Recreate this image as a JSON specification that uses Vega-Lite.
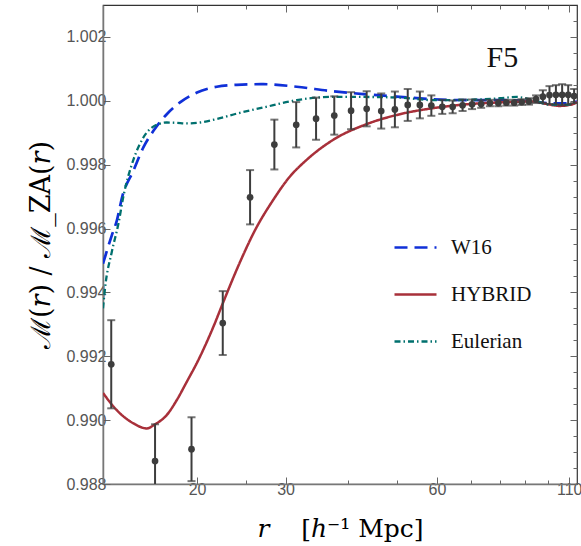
{
  "$schema": "https://vega.github.io/schema/vega-lite/v6.json",
  "width": 474,
  "height": 479,
  "autosize": "none",
  "padding": {"left": 103, "top": 5, "right": 4, "bottom": 62},
  "background": "white",
  "datasets": {
    "curves": [
      {"series": "W16", "r": 13.0, "m": 0.99490},
      {"series": "W16", "r": 13.53, "m": 0.99578},
      {"series": "W16", "r": 13.85, "m": 0.99625},
      {"series": "W16", "r": 14.2, "m": 0.99700},
      {"series": "W16", "r": 14.94, "m": 0.99781},
      {"series": "W16", "r": 15.64, "m": 0.99854},
      {"series": "W16", "r": 16.38, "m": 0.99906},
      {"series": "W16", "r": 17.41, "m": 0.99958},
      {"series": "W16", "r": 18.5, "m": 0.99995},
      {"series": "W16", "r": 20.0, "m": 1.00026},
      {"series": "W16", "r": 21.89, "m": 1.00044},
      {"series": "W16", "r": 23.99, "m": 1.00050},
      {"series": "W16", "r": 27.09, "m": 1.00052},
      {"series": "W16", "r": 31.57, "m": 1.00044},
      {"series": "W16", "r": 36.77, "m": 1.00031},
      {"series": "W16", "r": 42.83, "m": 1.00021},
      {"series": "W16", "r": 50.65, "m": 1.000125},
      {"series": "W16", "r": 58.99, "m": 1.00005},
      {"series": "W16", "r": 68.74, "m": 1.00002},
      {"series": "W16", "r": 80.08, "m": 1.00002},
      {"series": "W16", "r": 93.27, "m": 0.99998},
      {"series": "W16", "r": 100.65, "m": 0.99992},
      {"series": "W16", "r": 108.6, "m": 0.99992},
      {"series": "W16", "r": 114, "m": 0.99998},
      {"series": "HYBRID", "r": 13.0, "m": 0.99085},
      {"series": "HYBRID", "r": 13.85, "m": 0.99031},
      {"series": "HYBRID", "r": 14.94, "m": 0.98990},
      {"series": "HYBRID", "r": 15.89, "m": 0.98974},
      {"series": "HYBRID", "r": 16.5, "m": 0.98987},
      {"series": "HYBRID", "r": 17.41, "m": 0.99016},
      {"series": "HYBRID", "r": 18.23, "m": 0.99063},
      {"series": "HYBRID", "r": 19.08, "m": 0.99120},
      {"series": "HYBRID", "r": 20.0, "m": 0.99180},
      {"series": "HYBRID", "r": 21.55, "m": 0.99292},
      {"series": "HYBRID", "r": 22.56, "m": 0.99370},
      {"series": "HYBRID", "r": 24.35, "m": 0.99495},
      {"series": "HYBRID", "r": 26.09, "m": 0.99595},
      {"series": "HYBRID", "r": 28.36, "m": 0.99690},
      {"series": "HYBRID", "r": 30.5, "m": 0.99760},
      {"series": "HYBRID", "r": 33.04, "m": 0.99815},
      {"series": "HYBRID", "r": 37.33, "m": 0.99878},
      {"series": "HYBRID", "r": 43.5, "m": 0.99927},
      {"series": "HYBRID", "r": 50.65, "m": 0.99958},
      {"series": "HYBRID", "r": 58.99, "m": 0.99977},
      {"series": "HYBRID", "r": 68.74, "m": 0.99989},
      {"series": "HYBRID", "r": 80.08, "m": 0.99995},
      {"series": "HYBRID", "r": 93.27, "m": 0.99998},
      {"series": "HYBRID", "r": 99.1, "m": 0.99990},
      {"series": "HYBRID", "r": 105.4, "m": 0.99984},
      {"series": "HYBRID", "r": 112.0, "m": 0.99990},
      {"series": "HYBRID", "r": 114, "m": 0.99996},
      {"series": "Eulerian", "r": 13.0, "m": 0.99350},
      {"series": "Eulerian", "r": 13.13, "m": 0.99417},
      {"series": "Eulerian", "r": 13.53, "m": 0.99526},
      {"series": "Eulerian", "r": 13.95, "m": 0.99615},
      {"series": "Eulerian", "r": 14.27, "m": 0.99700},
      {"series": "Eulerian", "r": 14.94, "m": 0.99815},
      {"series": "Eulerian", "r": 15.64, "m": 0.99885},
      {"series": "Eulerian", "r": 16.75, "m": 0.99927},
      {"series": "Eulerian", "r": 17.41, "m": 0.99932},
      {"series": "Eulerian", "r": 18.2, "m": 0.99931},
      {"series": "Eulerian", "r": 19.08, "m": 0.99929},
      {"series": "Eulerian", "r": 20.28, "m": 0.99932},
      {"series": "Eulerian", "r": 21.89, "m": 0.99943},
      {"series": "Eulerian", "r": 24.0, "m": 0.99960},
      {"series": "Eulerian", "r": 27.09, "m": 0.99979},
      {"series": "Eulerian", "r": 31.57, "m": 1.00002},
      {"series": "Eulerian", "r": 36.77, "m": 1.00012},
      {"series": "Eulerian", "r": 42.83, "m": 1.00012},
      {"series": "Eulerian", "r": 50.65, "m": 1.00010},
      {"series": "Eulerian", "r": 58.99, "m": 1.00002},
      {"series": "Eulerian", "r": 68.74, "m": 1.00003},
      {"series": "Eulerian", "r": 80.08, "m": 1.00008},
      {"series": "Eulerian", "r": 86.44, "m": 1.00012},
      {"series": "Eulerian", "r": 93.27, "m": 1.00002},
      {"series": "Eulerian", "r": 100.65, "m": 0.99988},
      {"series": "Eulerian", "r": 108.6, "m": 0.99987},
      {"series": "Eulerian", "r": 114, "m": 0.99998}
    ],
    "pts": [
      {"r": 13.5, "m": 0.99175, "err": 0.00138},
      {"r": 16.5, "m": 0.98872, "err": 0.00115},
      {"r": 19.5, "m": 0.98909, "err": 0.00100},
      {"r": 22.5, "m": 0.99304, "err": 0.00100},
      {"r": 25.5, "m": 0.99698, "err": 0.00085},
      {"r": 28.5, "m": 0.99863, "err": 0.00078},
      {"r": 31.5, "m": 0.99925, "err": 0.00071},
      {"r": 34.5, "m": 0.99944, "err": 0.00066},
      {"r": 37.5, "m": 0.99954, "err": 0.00060},
      {"r": 40.5, "m": 0.99969, "err": 0.00058},
      {"r": 43.5, "m": 0.99975, "err": 0.00055},
      {"r": 46.5, "m": 0.99968, "err": 0.00055},
      {"r": 49.5, "m": 0.99973, "err": 0.00056},
      {"r": 52.5, "m": 0.99987, "err": 0.00050},
      {"r": 55.5, "m": 0.99987, "err": 0.00042},
      {"r": 58.5, "m": 0.99985, "err": 0.00032},
      {"r": 61.5, "m": 0.99981, "err": 0.00022},
      {"r": 64.5, "m": 0.99981, "err": 0.00020},
      {"r": 67.5, "m": 0.99986, "err": 0.00018},
      {"r": 70.5, "m": 0.99989, "err": 0.00015},
      {"r": 73.5, "m": 0.99990, "err": 0.00012},
      {"r": 76.5, "m": 0.99993, "err": 0.00010},
      {"r": 79.5, "m": 0.99993, "err": 0.00010},
      {"r": 82.5, "m": 0.99994, "err": 0.00009},
      {"r": 85.5, "m": 0.99994, "err": 0.00009},
      {"r": 88.5, "m": 0.99996, "err": 0.00009},
      {"r": 91.5, "m": 0.99998, "err": 0.00010},
      {"r": 94.5, "m": 1.00005, "err": 0.00012},
      {"r": 97.5, "m": 1.00013, "err": 0.00020},
      {"r": 100.5, "m": 1.00018, "err": 0.00028},
      {"r": 103.5, "m": 1.00019, "err": 0.00030},
      {"r": 106.5, "m": 1.00019, "err": 0.00033},
      {"r": 109.5, "m": 1.00019, "err": 0.00030},
      {"r": 112.5, "m": 1.00015, "err": 0.00022}
    ],
    "ann": [
      {"r": 81, "m": 1.00134, "label": "F5"}
    ]
  },
  "layer": [
    {
      "mark": {"type": "rule", "stroke": "#888888", "strokeWidth": 2, "strokeDash": [3, 3]},
      "encoding": {
        "x": {
          "datum": 13, "type": "quantitative",
          "scale": {"type": "log", "domain": [13, 114], "nice": false},
          "axis": {
            "orient": "top", "values": [20, 25, 30, 40, 50, 60, 70, 80, 90, 100, 110],
            "labels": false, "title": null, "grid": false, "domain": false,
            "tickColor": "#666666", "tickWidth": 1,
            "tickSize": {"condition": {"test": "indexof([20,30,60,110], datum.value) >= 0", "value": -7}, "value": -4}
          }
        },
        "x2": {"datum": 114},
        "y": {
          "datum": 1.0, "type": "quantitative",
          "scale": {"domain": [0.988, 1.003], "zero": false, "nice": false},
          "axis": {
            "orient": "right",
            "values": [0.988, 0.9885, 0.989, 0.9895, 0.99, 0.9905, 0.991, 0.9915, 0.992, 0.9925, 0.993, 0.9935, 0.994, 0.9945, 0.995, 0.9955, 0.996, 0.9965, 0.997, 0.9975, 0.998, 0.9985, 0.999, 0.9995, 1.0, 1.0005, 1.001, 1.0015, 1.002, 1.0025],
            "labels": false, "title": null, "grid": false, "domain": false,
            "tickColor": "#666666", "tickWidth": 1,
            "tickSize": {"condition": {"test": "round(datum.value*2000) % 4 == 0", "value": -7}, "value": -4}
          }
        }
      }
    },
    {
      "layer": [
        {
          "data": {"name": "curves"},
          "mark": {"type": "line", "clip": true, "interpolate": "monotone"},
          "encoding": {
            "x": {
              "field": "r", "type": "quantitative",
              "title": "𝑟\u00a0\u00a0\u00a0\u00a0[ℎ⁻¹ Mpc]",
              "scale": {"type": "log", "domain": [13, 114], "nice": false},
              "axis": {
                "orient": "bottom", "values": [20, 25, 30, 40, 50, 60, 70, 80, 90, 100, 110],
                "labelExpr": "indexof([20,30,60,110], datum.value) >= 0 ? format(datum.value, 'd') : ''",
                "grid": false, "domainColor": "#777777", "domainWidth": 1.5,
                "tickColor": "#666666", "tickWidth": 1,
                "tickSize": {"condition": {"test": "indexof([20,30,60,110], datum.value) >= 0", "value": -7}, "value": -4},
                "labelFont": "Liberation Sans", "labelFontSize": 16, "labelColor": "#555555", "labelPadding": 4,
                "titleFont": "DejaVu Serif", "titleFontSize": 25, "titleFontWeight": "normal",
                "titleColor": "#000000", "titlePadding": 19
              }
            },
            "y": {
              "field": "m", "type": "quantitative",
              "title": "ℳ(𝑟) / ℳ_ZA(𝑟)",
              "scale": {"domain": [0.988, 1.003], "zero": false, "nice": false},
              "axis": {
                "orient": "left",
                "values": [0.988, 0.9885, 0.989, 0.9895, 0.99, 0.9905, 0.991, 0.9915, 0.992, 0.9925, 0.993, 0.9935, 0.994, 0.9945, 0.995, 0.9955, 0.996, 0.9965, 0.997, 0.9975, 0.998, 0.9985, 0.999, 0.9995, 1.0, 1.0005, 1.001, 1.0015, 1.002, 1.0025],
                "labelExpr": "round(datum.value*2000) % 4 == 0 ? format(datum.value, '.3f') : ''",
                "grid": false, "domainColor": "#777777", "domainWidth": 1.5,
                "tickColor": "#666666", "tickWidth": 1,
                "tickSize": {"condition": {"test": "round(datum.value*2000) % 4 == 0", "value": -7}, "value": -4},
                "labelFont": "Liberation Sans", "labelFontSize": 16, "labelColor": "#555555", "labelPadding": 4,
                "titleFont": "DejaVu Serif", "titleFontSize": 27, "titleFontWeight": "normal",
                "titleColor": "#000000", "titlePadding": 10
              }
            },
            "color": {
              "field": "series", "type": "nominal",
              "scale": {"domain": ["W16", "HYBRID", "Eulerian"], "range": ["#1030d8", "#a8303a", "#00706e"]},
              "legend": {
                "title": null, "orient": "none", "legendX": 290, "legendY": 220,
                "symbolType": "stroke", "symbolSize": 1764, "symbolStrokeWidth": 2.5,
                "labelFont": "Liberation Serif", "labelFontSize": 21, "labelColor": "#111111",
                "labelOffset": 13, "rowPadding": 14
              }
            },
            "strokeDash": {
              "field": "series", "type": "nominal",
              "scale": {"domain": ["W16", "HYBRID", "Eulerian"], "range": [[13, 7], [1, 0], [6, 3, 1.5, 3]]},
              "legend": {
                "title": null, "orient": "none", "legendX": 290, "legendY": 220,
                "symbolType": "stroke", "symbolSize": 1764, "symbolStrokeWidth": 2.5,
                "labelFont": "Liberation Serif", "labelFontSize": 21, "labelColor": "#111111",
                "labelOffset": 13, "rowPadding": 14
              }
            },
            "strokeWidth": {
              "field": "series", "type": "nominal",
              "scale": {"domain": ["W16", "HYBRID", "Eulerian"], "range": [2.7, 2.3, 2.0]},
              "legend": null
            }
          }
        },
        {
          "data": {"name": "pts"},
          "mark": {"type": "errorbar", "ticks": {"size": 8, "thickness": 2, "color": "#3d3d3d"}, "rule": {"strokeWidth": 2, "color": "#3d3d3d"}, "clip": true},
          "encoding": {
            "x": {"field": "r", "type": "quantitative", "title": "𝑟\u00a0\u00a0\u00a0\u00a0[ℎ⁻¹ Mpc]"},
            "y": {"field": "m", "type": "quantitative", "title": "ℳ(𝑟) / ℳ_ZA(𝑟)"},
            "yError": {"field": "err"}
          }
        },
        {
          "data": {"name": "pts"},
          "mark": {"type": "point", "filled": true, "size": 45, "color": "#3d3d3d", "opacity": 1, "clip": true},
          "encoding": {
            "x": {"field": "r", "type": "quantitative", "title": "𝑟\u00a0\u00a0\u00a0\u00a0[ℎ⁻¹ Mpc]"},
            "y": {"field": "m", "type": "quantitative", "title": "ℳ(𝑟) / ℳ_ZA(𝑟)"}
          }
        },
        {
          "data": {"name": "ann"},
          "mark": {"type": "text", "font": "Liberation Serif", "fontSize": 30, "color": "#111111", "align": "center", "baseline": "middle"},
          "encoding": {
            "x": {"field": "r", "type": "quantitative", "title": "𝑟\u00a0\u00a0\u00a0\u00a0[ℎ⁻¹ Mpc]"},
            "y": {"field": "m", "type": "quantitative", "title": "ℳ(𝑟) / ℳ_ZA(𝑟)"},
            "text": {"field": "label"}
          }
        }
      ]
    }
  ],
  "resolve": {"axis": {"x": "independent", "y": "independent"}},
  "config": {
    "view": {"stroke": "#333333", "strokeWidth": 1.2},
    "axis": {"ticks": true},
    "legend": {"labelFont": "Liberation Serif", "labelFontSize": 21, "labelColor": "#111111"}
  }
}
